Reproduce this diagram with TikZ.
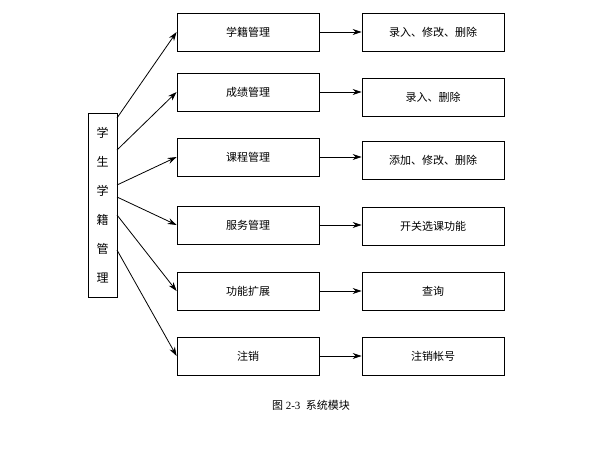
\documentclass[tikz,border=0pt]{standalone}
\usepackage{fontspec}
\setmainfont{Liberation Serif}
\newfontfamily\cjk{Noto Sans CJK SC}
\usetikzlibrary{arrows.meta}
\begin{document}
\begin{tikzpicture}[x=1pt,y=-1pt,
  box/.style={draw,thick,minimum width=142pt,minimum height=38pt,inner sep=0pt,font=\cjk\fontsize{11}{13}\selectfont},
  arr/.style={-{Stealth[length=9pt,width=6pt]},thick}]
\useasboundingbox[fill=white] (0,0) rectangle (615,466);
\node[draw,thick,minimum width=29pt,minimum height=184pt,inner sep=0pt,font=\cjk\fontsize{12}{29}\selectfont,align=center] (root) at (102.5,205) {学\\生\\学\\籍\\管\\理};
\node[box] (m1) at (248,32) {学籍管理};
\node[box] (m2) at (248,92) {成绩管理};
\node[box] (m3) at (248,157) {课程管理};
\node[box] (m4) at (248,225) {服务管理};
\node[box] (m5) at (248,291) {功能扩展};
\node[box] (m6) at (248,356) {注销};
\node[box] (r1) at (433,32) {录入、修改、删除};
\node[box] (r2) at (433,97) {录入、删除};
\node[box] (r3) at (433,160) {添加、修改、删除};
\node[box] (r4) at (433,226) {开关选课功能};
\node[box] (r5) at (433,291) {查询};
\node[box] (r6) at (433,356) {注销帐号};
\coordinate (o1) at (117,118);
\coordinate (o2) at (117,150);
\coordinate (o3) at (117,185);
\coordinate (o4) at (117,197);
\coordinate (o5) at (117,215);
\coordinate (o6) at (117,250);
\draw[arr] (o1) -- (m1.west);
\draw[arr] (o2) -- (m2.west);
\draw[arr] (o3) -- (m3.west);
\draw[arr] (o4) -- (m4.west);
\draw[arr] (o5) -- (m5.west);
\draw[arr] (o6) -- (m6.west);
\foreach \i in {1,...,6} {\draw[arr] (m\i.east) -- (r\i.west |- m\i.east);}
\node[font=\fontsize{11}{13}\selectfont] (cap) at (311,405) {{\cjk 图} 2-3\ \ {\cjk 系统模块}};
\end{tikzpicture}
\end{document}
